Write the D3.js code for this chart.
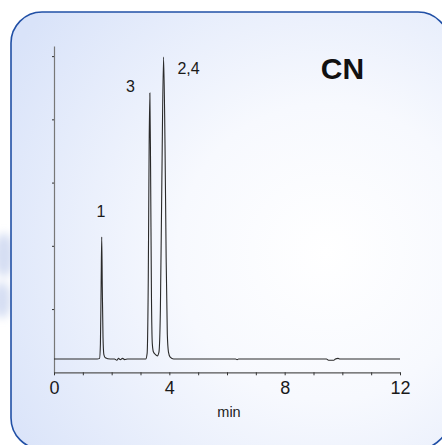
<!DOCTYPE html>
<html>
<head>
<meta charset="utf-8">
<script src="https://cdn.jsdelivr.net/npm/d3@7"></script>
<style>
  html, body { margin: 0; padding: 0; background: #fff; }
  svg { display: block; font-family: "Liberation Sans", Arial, sans-serif; }
</style>
</head>
<body>
<svg id="canvas" width="442" height="445"></svg>
<script>
// chromatogram trace: [time in min, detector signal]
const trace = [
  [0.00, 0.21], [1.50, 0.21], [1.58, 0.22], [1.61, 0.45], [1.635, 1.40], [1.655, 2.14],
  [1.675, 1.35], [1.70, 0.55], [1.73, 0.28], [1.78, 0.23], [1.95, 0.21], [2.10, 0.21],
  [2.18, 0.19], [2.24, 0.22], [2.30, 0.20], [2.38, 0.22], [2.45, 0.20], [2.55, 0.21],
  [3.18, 0.21], [3.23, 0.30], [3.27, 1.50], [3.30, 3.60], [3.325, 4.415], [3.35, 3.20],
  [3.38, 1.20], [3.41, 0.45], [3.45, 0.32], [3.52, 0.28], [3.58, 0.26], [3.64, 0.32],
  [3.69, 1.00], [3.74, 3.00], [3.80, 4.985], [3.85, 3.60], [3.89, 1.80], [3.93, 0.60],
  [3.97, 0.32], [4.03, 0.24], [4.15, 0.21], [6.30, 0.21], [6.35, 0.20], [6.40, 0.21],
  [9.45, 0.21], [9.52, 0.19], [9.70, 0.19], [9.76, 0.21], [9.85, 0.22], [9.92, 0.21],
  [12.00, 0.21]
];

const xTicks = d3.range(0, 13);
const xLabels = [0, 4, 8, 12];
const yTicks = [1, 2, 3, 4, 5];

const peakLabels = [
  { text: '1', t: 1.47, v: 2.455 },
  { text: '3', t: 2.50, v: 4.43 },
  { text: '2,4', t: 4.28, v: 4.715 }
];

const svg = d3.select('#canvas');
const defs = svg.append('defs');

// panel background
const grad = defs.append('radialGradient')
  .attr('id', 'panelFill')
  .attr('cx', '0.72').attr('cy', '0.55').attr('r', '0.85');
grad.append('stop').attr('offset', '0').attr('stop-color', '#ffffff');
grad.append('stop').attr('offset', '0.4').attr('stop-color', '#f7f9fe');
grad.append('stop').attr('offset', '1').attr('stop-color', '#d9e3f9');

defs.append('filter').attr('id', 'blur')
  .append('feGaussianBlur').attr('stdDeviation', 4);

// faint streaks behind the panel on the left
const streaks = svg.append('g').attr('filter', 'url(#blur)').attr('fill', '#d5def3');
streaks.append('ellipse').attr('cx', 4).attr('cy', 255).attr('rx', 10).attr('ry', 22);
streaks.append('ellipse').attr('cx', 2).attr('cy', 300).attr('rx', 9).attr('ry', 18);

svg.append('rect')
  .attr('x', 11).attr('y', 12)
  .attr('width', 438).attr('height', 437)
  .attr('rx', 31).attr('ry', 31)
  .attr('fill', 'url(#panelFill)')
  .attr('stroke', '#2150a6')
  .attr('stroke-width', 1.6);

// scales
const x = d3.scaleLinear().domain([0, 12]).range([54, 400]);
const y = d3.scaleLinear().domain([0, 5.16]).range([372.3, 46]);

// y axis
const yAxis = svg.append('g')
  .attr('transform', `translate(${x(0)},0)`)
  .call(d3.axisLeft(y).tickValues(yTicks).tickSize(2).tickSizeOuter(0).tickFormat(''));
yAxis.select('.domain').attr('stroke', '#777').attr('stroke-width', 1.2);
yAxis.selectAll('.tick line').attr('stroke', '#333');

// x axis
const xAxis = svg.append('g')
  .attr('transform', `translate(0,${y(0)})`)
  .call(d3.axisBottom(x).tickValues(xTicks).tickSize(3).tickSizeOuter(0).tickPadding(6)
    .tickFormat(d => xLabels.includes(d) ? d : ''));
xAxis.select('.domain').attr('stroke', '#555').attr('stroke-width', 1.2);
xAxis.selectAll('.tick line').attr('stroke', '#333');
xAxis.selectAll('.tick text')
  .attr('font-size', 18)
  .attr('fill', '#1a1a1a')
  .attr('font-family', '"Liberation Sans", Arial, sans-serif');

svg.append('text')
  .attr('x', 229).attr('y', 417)
  .attr('text-anchor', 'middle')
  .attr('font-size', 14.5)
  .attr('fill', '#222')
  .text('min');

// chromatogram line
const line = d3.line()
  .x(d => x(d[0]))
  .y(d => y(d[1]))
  .curve(d3.curveMonotoneX);

svg.append('path')
  .datum(trace)
  .attr('d', line)
  .attr('fill', 'none')
  .attr('stroke', '#2a2a2a')
  .attr('stroke-width', 1.1);

// peak labels
svg.selectAll('.peak-label')
  .data(peakLabels)
  .enter().append('text')
  .attr('class', 'peak-label')
  .attr('x', d => x(d.t))
  .attr('y', d => y(d.v))
  .attr('font-size', 16)
  .attr('fill', '#1a1a1a')
  .text(d => d.text);

svg.append('text')
  .attr('x', 342.5).attr('y', 79)
  .attr('text-anchor', 'middle')
  .attr('font-size', 30)
  .attr('font-weight', 'bold')
  .attr('fill', '#111')
  .text('CN');
</script>
</body>
</html>
